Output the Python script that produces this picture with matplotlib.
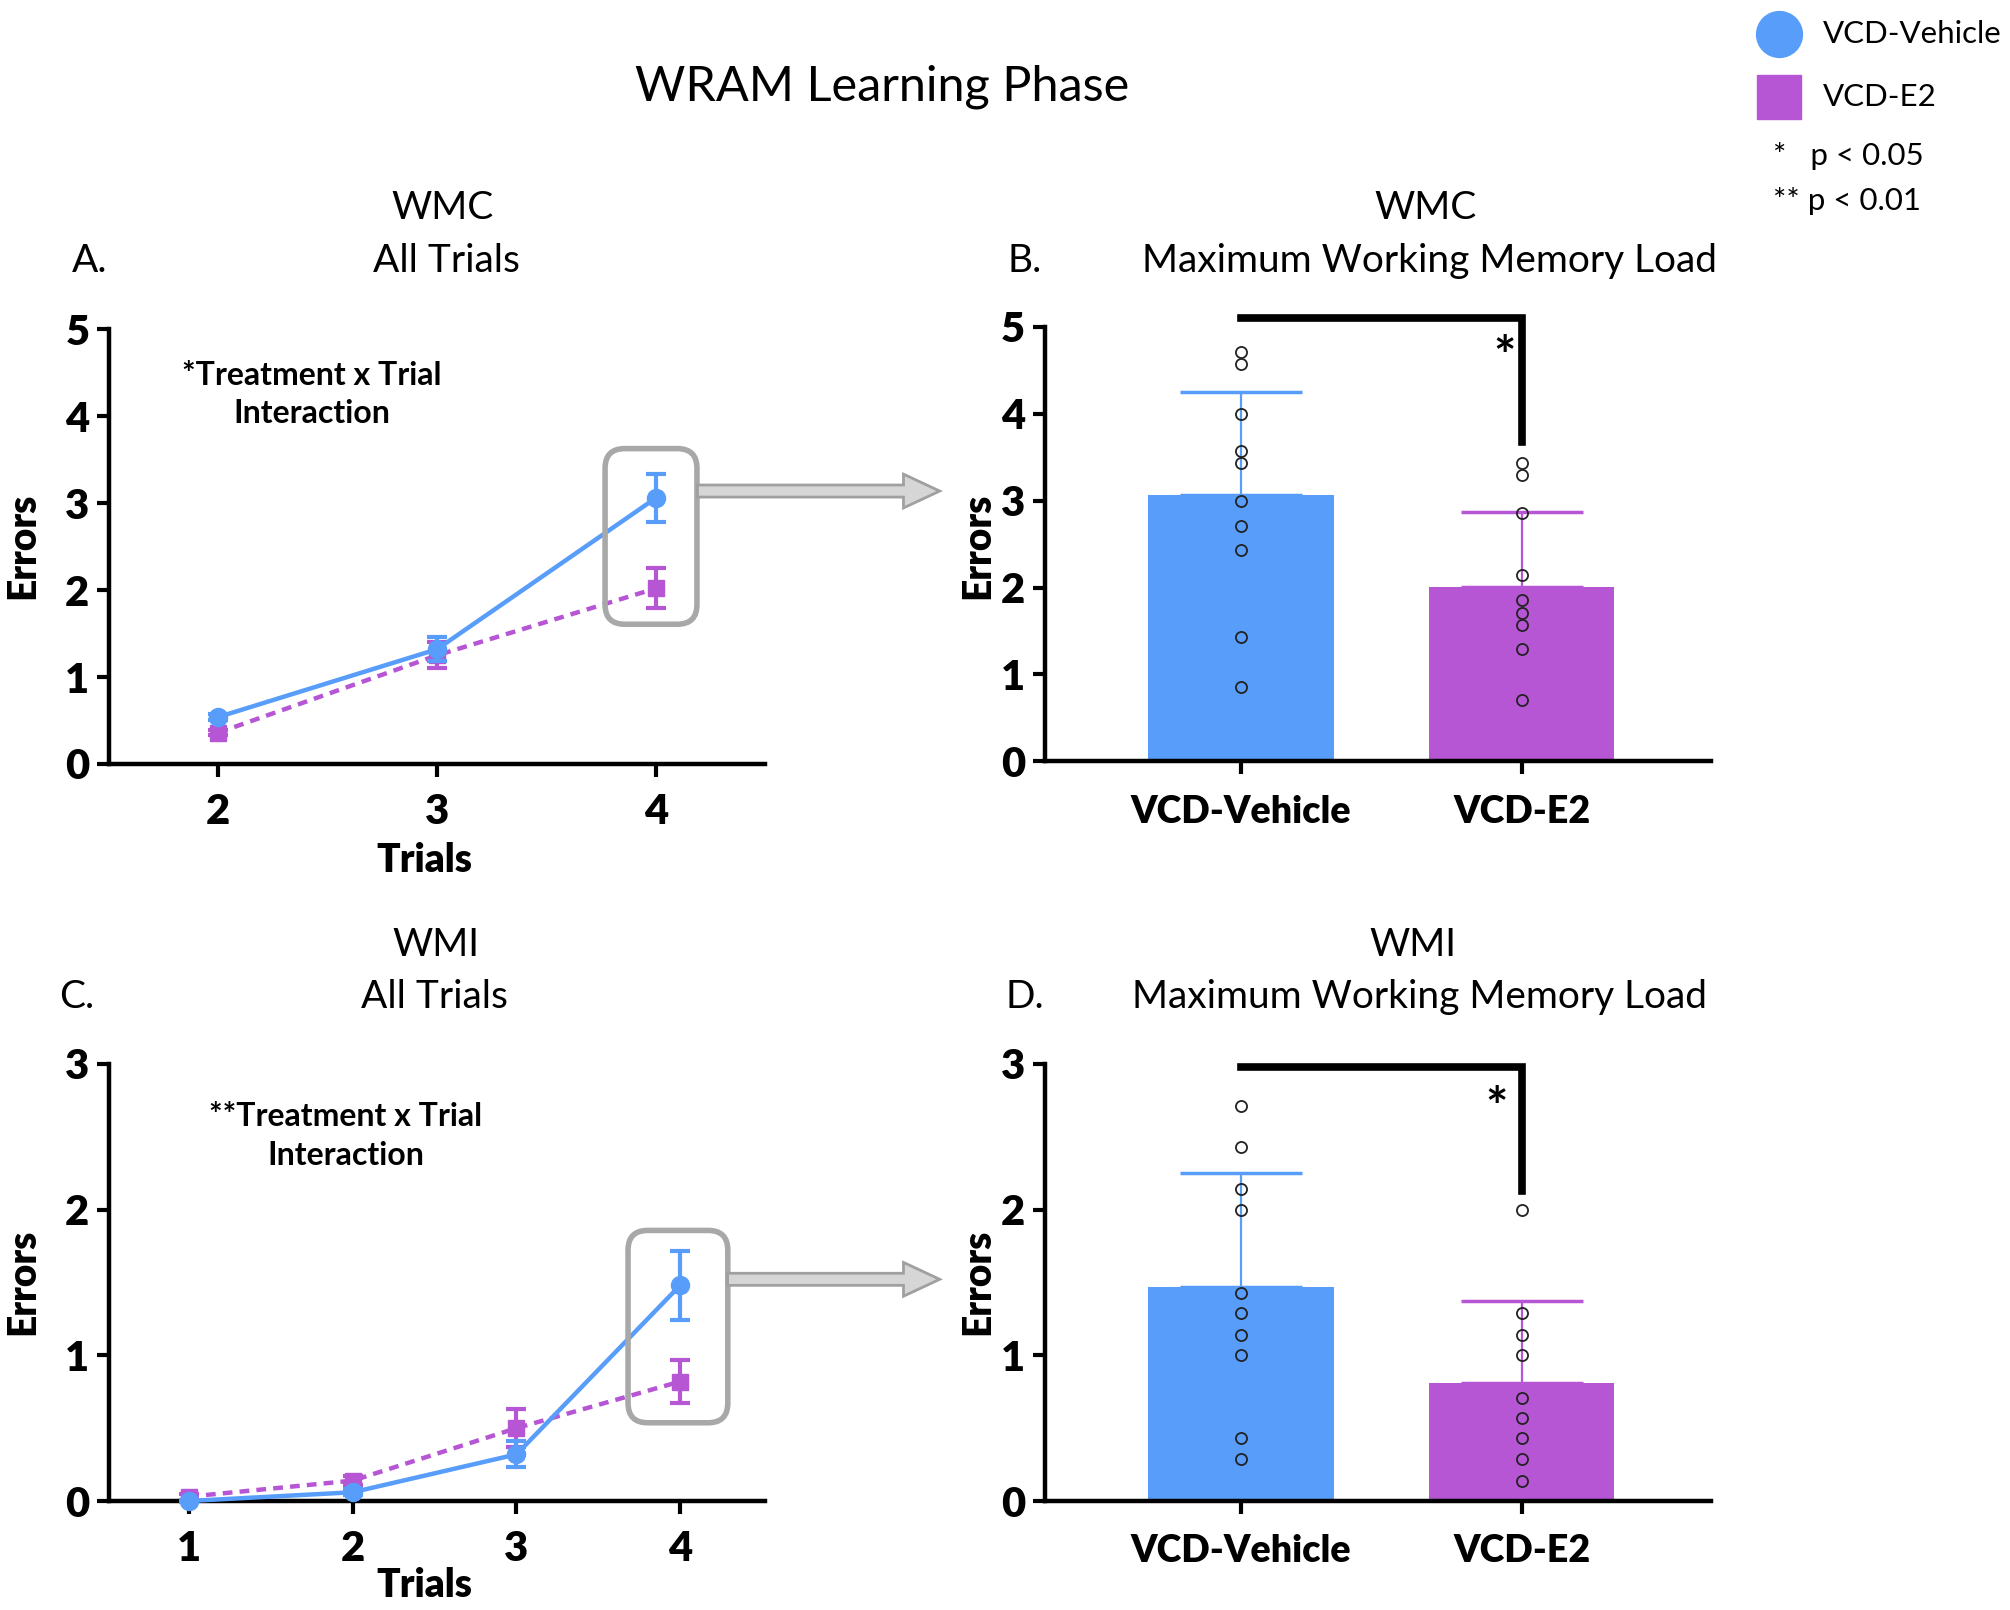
import numpy as np
import matplotlib
matplotlib.use('Agg')
import matplotlib.pyplot as plt
from matplotlib.patches import FancyBboxPatch, FancyArrow
from matplotlib.lines import Line2D

plt.rcParams['font.family'] = ['Lato', 'DejaVu Sans']

blue = '#579DF9'
purple = '#B656D5'
box_gray = '#A8A8A8'

# WMC, all trials (panel A)
wmc_trials = [2, 3, 4]
wmc_veh_mean = [0.54, 1.32, 3.06]
wmc_veh_sem = [0.03, 0.14, 0.28]
wmc_e2_mean = [0.36, 1.25, 2.02]
wmc_e2_sem = [0.03, 0.15, 0.23]

# WMI, all trials (panel C)
wmi_trials = [1, 2, 3, 4]
wmi_veh_mean = [0.0, 0.06, 0.32, 1.48]
wmi_veh_sem = [0.01, 0.02, 0.09, 0.235]
wmi_e2_mean = [0.03, 0.14, 0.50, 0.82]
wmi_e2_sem = [0.02, 0.03, 0.13, 0.145]

# max working memory load (panels B, D)
groups = ['VCD-Vehicle', 'VCD-E2']
wmc_bar_mean = [3.07, 2.01]
wmc_bar_sd = [1.18, 0.86]
wmi_bar_mean = [1.47, 0.81]
wmi_bar_sd = [0.78, 0.56]
wmc_veh_pts = [4.71, 4.57, 4.0, 3.57, 3.43, 3.0, 2.71, 2.43, 1.43, 0.86]
wmc_e2_pts = [3.43, 3.29, 2.86, 2.14, 1.86, 1.71, 1.57, 1.29, 0.71]
wmi_veh_pts = [2.71, 2.43, 2.14, 2.0, 1.43, 1.29, 1.14, 1.0, 0.43, 0.29]
wmi_e2_pts = [2.0, 1.29, 1.14, 1.0, 0.71, 0.57, 0.43, 0.29, 0.14]

fig = plt.figure(figsize=(20.1, 16.1), dpi=100)


def style_axes(ax):
    for s in ['top', 'right']:
        ax.spines[s].set_visible(False)
    for s in ['left', 'bottom']:
        ax.spines[s].set_linewidth(3.2)
    ax.tick_params(width=3, length=9, labelsize=30, pad=5)
    for lab in ax.get_xticklabels() + ax.get_yticklabels():
        lab.set_fontweight('heavy')


def line_panel(ax, x, vm, vs, em, es, ymax, xlim):
    ax.errorbar(x, em, yerr=es, color=purple, ls=(0, (2.2, 1.6)), lw=3.2,
                marker='s', ms=12, capsize=7, capthick=3, elinewidth=3, clip_on=False, zorder=3)
    ax.errorbar(x, vm, yerr=vs, color=blue, ls='-', lw=3.2,
                marker='o', ms=13, capsize=7, capthick=3, elinewidth=3, clip_on=False, zorder=4)
    ax.set_xlim(*xlim)
    ax.set_ylim(0, ymax)
    ax.set_xticks(x)
    ax.set_yticks(range(0, ymax + 1))
    style_axes(ax)
    ax.tick_params(axis='x', pad=12)


def bar_panel(ax, means, sds, pts_v, pts_e, ymax):
    pos = np.arange(len(groups))
    cols = [blue, purple]
    ax.bar(pos, means, width=0.662, color=cols, zorder=2)
    for i in range(len(groups)):
        ax.errorbar(pos[i], means[i], yerr=[[0], [sds[i]]], color=cols[i], lw=1.6,
                    capsize=44, capthick=2.5, zorder=3)
    for i, pts in enumerate([pts_v, pts_e]):
        ax.plot([pos[i]] * len(pts), pts, 'o', mfc='none', mec='#222222', ms=8, mew=1.3, zorder=4)
    ax.set_xlim(-0.699, 1.676)
    ax.set_ylim(0, ymax)
    ax.set_xticks(pos)
    ax.set_xticklabels(groups)
    ax.set_yticks(range(0, ymax + 1))
    style_axes(ax)
    ax.tick_params(axis='x', pad=15, labelsize=27)


axA = fig.add_axes([0.0542, 0.5255, 0.3265, 0.2699])
line_panel(axA, wmc_trials, wmc_veh_mean, wmc_veh_sem, wmc_e2_mean, wmc_e2_sem, 5, (1.5, 4.5))
axA.text(0.309, 0.85, '*Treatment x Trial\nInteraction', transform=axA.transAxes, ha='center',
         va='center', fontsize=23, fontweight='bold', linespacing=1.4)

axC = fig.add_axes([0.0542, 0.0677, 0.3265, 0.2715])
line_panel(axC, wmi_trials, wmi_veh_mean, wmi_veh_sem, wmi_e2_mean, wmi_e2_sem, 3, (0.51, 4.52))
axC.text(0.361, 0.835, '**Treatment x Trial\nInteraction', transform=axC.transAxes, ha='center',
         va='center', fontsize=23, fontweight='bold', linespacing=1.4)

axB = fig.add_axes([0.5198, 0.5271, 0.3316, 0.2699])
bar_panel(axB, wmc_bar_mean, wmc_bar_sd, wmc_veh_pts, wmc_e2_pts, 5)
axB.plot([0, 1, 1], [5.1, 5.1, 3.68], color='black', lw=5.5, clip_on=False, solid_joinstyle='miter')
axB.text(0.94, 4.62, '*', ha='center', va='center', fontsize=38, fontweight='bold')

axD = fig.add_axes([0.5198, 0.0677, 0.3316, 0.2715])
bar_panel(axD, wmi_bar_mean, wmi_bar_sd, wmi_veh_pts, wmi_e2_pts, 3)
axD.plot([0, 1, 1], [2.98, 2.98, 2.13], color='black', lw=5.5, clip_on=False, solid_joinstyle='miter')
axD.text(0.91, 2.68, '*', ha='center', va='center', fontsize=38, fontweight='bold')

# highlight boxes around the last trial
for ax, (x0, y0, x1, y1) in [(axA, (0.756, 0.3215, 0.896, 0.7257)),
                              (axC, (0.791, 0.179, 0.943, 0.619))]:
    bb = ax.get_position()
    asp = (bb.width * 2010) / (bb.height * 1610)
    box = FancyBboxPatch((x0, y0), x1 - x0, y1 - y0, boxstyle='round,pad=0,rounding_size=0.03',
                         mutation_aspect=asp, transform=ax.transAxes, fill=False,
                         ec=box_gray, lw=4, clip_on=False, zorder=5)
    ax.add_patch(box)

for xs, xe, y in [(0.347, 0.4675, 0.695), (0.362, 0.4675, 0.2054)]:
    arr = FancyArrow(xs, y, xe - xs - 0.018, 0, width=0.0075, head_width=0.021, head_length=0.018,
                     length_includes_head=False, transform=fig.transFigure, fc='#D6D6D6',
                     ec='#A0A0A0', lw=2)
    fig.add_artist(arr)

# titles and labels
fig.text(0.4388, 0.9459, 'WRAM Learning Phase', ha='center', va='center', fontsize=35)
for x, y, t in [(0.22, 0.871, 'WMC'), (0.222, 0.8376, 'All Trials'),
                (0.709, 0.871, 'WMC'), (0.711, 0.8376, 'Maximum Working Memory Load'),
                (0.2168, 0.4132, 'WMI'), (0.2162, 0.3806, 'All Trials'),
                (0.7028, 0.4132, 'WMI'), (0.706, 0.3806, 'Maximum Working Memory Load')]:
    fig.text(x, y, t, ha='center', va='center', fontsize=28)
for x, y, t in [(0.0446, 0.8376, 'A.'), (0.510, 0.8376, 'B.'),
                (0.0383, 0.3806, 'C.'), (0.510, 0.3806, 'D.')]:
    fig.text(x, y, t, ha='center', va='center', fontsize=28)
for x, y in [(0.0115, 0.6608), (0.4866, 0.6608), (0.0115, 0.2038), (0.4866, 0.2038)]:
    fig.text(x, y, 'Errors', ha='center', va='center', rotation=90, fontsize=28, fontweight='heavy')
fig.text(0.2111, 0.4658, 'Trials', ha='center', va='center', fontsize=28, fontweight='heavy')
fig.text(0.2111, 0.0151, 'Trials', ha='center', va='center', fontsize=28, fontweight='heavy')

# legend
fig.add_artist(Line2D([0.885], [0.979], marker='o', ms=33, color=blue, ls='none',
                      transform=fig.transFigure))
fig.add_artist(Line2D([0.885], [0.940], marker='s', ms=31, color=purple, ls='none',
                      transform=fig.transFigure))
fig.text(0.907, 0.979, 'VCD-Vehicle', ha='left', va='center', fontsize=22.5)
fig.text(0.907, 0.940, 'VCD-E2', ha='left', va='center', fontsize=22.5)
fig.text(0.882, 0.903, '*   p < 0.05', ha='left', va='center', fontsize=22.5)
fig.text(0.882, 0.875, '** p < 0.01', ha='left', va='center', fontsize=22.5)

fig.savefig('out.png', dpi=100)
